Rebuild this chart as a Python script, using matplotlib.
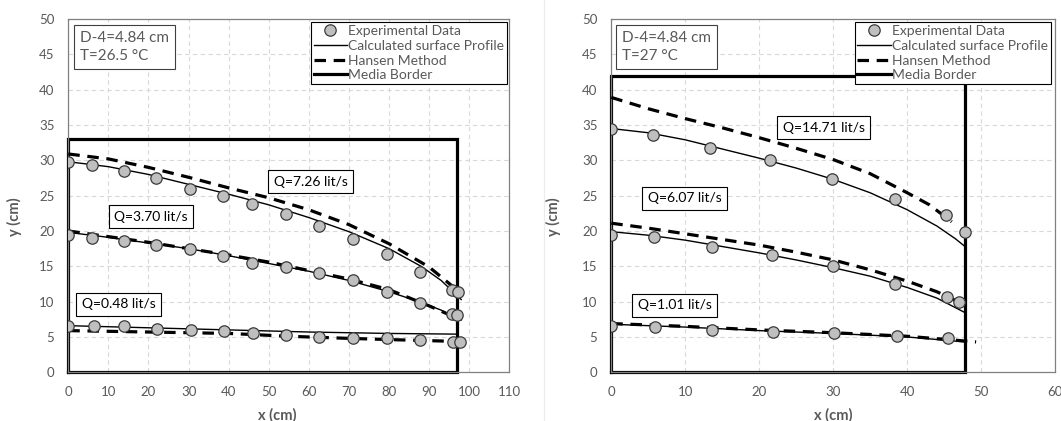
#!/usr/bin/env python3
"""
Free-surface profiles through porous media (D-4 = 4.84 cm).

Left:  media length ~97 cm, T = 26.5 C
Right: media length ~48 cm, T = 27 C

Output: out.png
"""

import matplotlib

matplotlib.use("Agg")
import matplotlib.pyplot as plt
from matplotlib.lines import Line2D

# ================================
# Data  (x, y in cm)
# ================================

# ---- left panel: T = 26.5 C ----
L_Q726_X = [0, 5.8, 13.8, 21.9, 30.4, 38.7, 45.8, 54.2, 62.5, 70.9, 79.4, 87.7, 95.8, 97.1]
L_Q726_Y = [29.7, 29.3, 28.5, 27.5, 26.0, 24.9, 23.8, 22.4, 20.7, 18.8, 16.8, 14.2, 11.6, 11.3]
L_Q370_X = [0, 5.8, 13.8, 21.9, 30.4, 38.7, 45.8, 54.2, 62.5, 70.9, 79.4, 87.7, 95.8, 96.9]
L_Q370_Y = [19.5, 19.0, 18.6, 18.0, 17.4, 16.4, 15.5, 14.9, 14.0, 13.0, 11.3, 9.8, 8.2, 8.1]
L_Q048_X = [0, 6.3, 14.0, 22.2, 30.5, 38.8, 46.1, 54.4, 62.6, 71.0, 79.5, 87.8, 96.0, 97.8]
L_Q048_Y = [6.6, 6.6, 6.5, 6.1, 6.0, 5.8, 5.5, 5.3, 5.0, 4.8, 4.8, 4.6, 4.3, 4.3]

L_CALC_X = [0, 10, 20, 30, 40, 50, 60, 70, 80, 88, 93, 98]
L_CALC_726 = [29.8, 29.1, 28.0, 26.6, 25.2, 23.7, 21.9, 19.9, 17.5, 15.0, 13.0, 10.3]
L_CALC_370 = [19.8, 19.1, 18.3, 17.5, 16.5, 15.4, 14.3, 13.0, 11.4, 9.9, 8.8, 7.4]
L_CALC_048_X = [0, 20, 40, 60, 80, 97]
L_CALC_048 = [6.6, 6.3, 6.0, 5.7, 5.5, 5.4]

L_HANSEN_X = [0, 10, 20, 30, 40, 50, 60, 70, 80, 90, 96]
L_HANSEN_726 = [30.9, 30.2, 29.0, 27.6, 26.1, 24.7, 23.0, 20.9, 18.2, 14.9, 12.1]
L_HANSEN_370 = [20.0, 19.2, 18.4, 17.5, 16.6, 15.6, 14.4, 13.2, 11.7, 9.4, 7.9]
L_HANSEN_048_X = [0, 20, 40, 55, 70, 82, 95]
L_HANSEN_048 = [5.9, 5.7, 5.5, 5.1, 4.8, 4.6, 4.4]

L_BORDER_W = 97.0
L_BORDER_H = 33.0

# ---- right panel: T = 27 C ----
R_Q1471_X = [0, 5.7, 13.4, 21.5, 29.8, 38.3, 45.2, 47.8]
R_Q1471_Y = [34.4, 33.6, 31.7, 30.0, 27.4, 24.5, 22.2, 19.9]
R_Q607_X = [0, 5.8, 13.6, 21.7, 30.0, 38.4, 45.3, 47.0]
R_Q607_Y = [19.4, 19.1, 17.8, 16.6, 15.0, 12.5, 10.6, 9.9]
R_Q101_X = [0, 5.9, 13.6, 21.9, 30.1, 38.6, 45.5]
R_Q101_Y = [6.5, 6.4, 6.0, 5.7, 5.5, 5.2, 4.8]

R_CALC_1471_X = [0, 5, 10, 15, 20, 25, 30, 35, 40, 44, 46.5, 47.8]
R_CALC_1471 = [34.5, 33.9, 32.9, 31.6, 30.3, 28.9, 27.3, 25.4, 23.0, 20.7, 18.9, 17.8]
R_CALC_607_X = [0, 5, 10, 15, 20, 25, 30, 35, 40, 44, 47.7]
R_CALC_607 = [19.9, 19.4, 18.7, 17.8, 16.9, 15.9, 14.8, 13.6, 12.0, 10.5, 8.5]
R_CALC_101_X = [0, 10, 20, 30, 40, 47.8]
R_CALC_101 = [6.8, 6.4, 5.9, 5.5, 5.0, 4.3]

R_HANSEN_1471_X = [0, 5, 10, 15, 20, 25, 30, 35, 40, 43, 46]
R_HANSEN_1471 = [38.9, 37.3, 35.9, 34.6, 33.2, 31.7, 30.1, 28.1, 25.4, 23.7, 21.3]
R_HANSEN_607_X = [0, 5, 10, 15, 20, 25, 30, 35, 40, 44, 47.3]
R_HANSEN_607 = [21.1, 20.4, 19.6, 18.8, 18.0, 17.0, 15.9, 14.5, 12.9, 11.4, 9.8]
R_HANSEN_101_X = [0, 10, 20, 30, 40, 49.3]
R_HANSEN_101 = [6.9, 6.5, 6.0, 5.6, 5.1, 4.3]

R_BORDER_W = 47.8
R_BORDER_H = 42.0

# ================================
# Style
# ================================

plt.rcParams["font.family"] = ["Lato", "DejaVu Sans"]

GRAY_TXT = "#595959"
MARKER_FC = "#bfbfbf"
MARKER_EC = "#3a3a3a"
HANSEN_LS = (0, (3.6, 2.4))

EXP_KW = dict(ls="none", marker="o", ms=8.2, mfc=MARKER_FC, mec=MARKER_EC, mew=0.9, zorder=5)
CALC_KW = dict(color="black", lw=1.0, zorder=3)
HANSEN_KW = dict(color="black", lw=2.3, ls=HANSEN_LS, zorder=4)
BOX = dict(boxstyle="square,pad=0.4", fc="white", ec="black", lw=0.8)
Q_FS = 10


def style_axes(ax, xmax, xstep):
    ax.set_xlim(0, xmax)
    ax.set_ylim(0, 50)
    ax.set_xticks(range(0, xmax + 1, xstep))
    ax.set_yticks(range(0, 51, 5))
    ax.grid(True, color="#d9d9d9", lw=0.8, ls=(0, (4, 3)))
    ax.set_axisbelow(True)
    ax.tick_params(length=0, labelsize=9.5, labelcolor=GRAY_TXT, pad=10)
    for s in ax.spines.values():
        s.set_color("#808080")
        s.set_linewidth(0.9)
    ax.set_xlabel("x (cm)", fontsize=10.5, fontweight="bold", color=GRAY_TXT)
    ax.set_ylabel("y (cm)", fontsize=10.5, fontweight="bold", color=GRAY_TXT)


def draw_border(ax, w, h):
    ax.plot([0, 0, w, w, 0], [0, h, h, 0, 0], color="black", lw=2.3,
            solid_joinstyle="miter", clip_on=False, zorder=2)


def add_legend(ax, right):
    handles = [
        Line2D([], [], **EXP_KW),
        Line2D([], [], color="black", lw=1.0),
        Line2D([], [], color="black", lw=2.3, ls=HANSEN_LS),
        Line2D([], [], color="black", lw=2.3),
    ]
    labels = ["Experimental Data", "Calculated surface Profile",
              "Hansen Method", "Media Border"]
    leg = ax.legend(handles, labels, loc="upper right", bbox_to_anchor=(right, 0.991),
                    fontsize=10, frameon=True, fancybox=False, framealpha=1,
                    edgecolor="black", borderpad=0.2, labelspacing=0.2,
                    handlelength=2.4, handletextpad=0.1, borderaxespad=0.0)
    leg.get_frame().set_linewidth(0.8)
    for t in leg.get_texts():
        t.set_color(GRAY_TXT)
    leg.set_zorder(6)


def info_box(ax, x, text):
    ax.text(x, 46.05, text, ha="left", va="center", fontsize=11,
            color=GRAY_TXT, linespacing=1.3, zorder=6,
            bbox=dict(boxstyle="square,pad=0.4", fc="white", ec="#404040", lw=0.8))


def main():
    fig = plt.figure(figsize=(10.61, 4.21), dpi=100)
    fig.patch.set_facecolor("white")

    bottom = (421 - 372.3) / 421
    height = 353.3 / 421
    ax1 = fig.add_axes([68.3 / 1061, bottom, 441 / 1061, height])
    ax2 = fig.add_axes([611.3 / 1061, bottom, 444 / 1061, height])

    # faint chart-area edge between the two charts
    fig.add_artist(Line2D([544 / 1061, 544 / 1061], [0, 1], color="#ececec", lw=0.8))

    # -------- left --------
    style_axes(ax1, 110, 10)
    draw_border(ax1, L_BORDER_W, L_BORDER_H)
    ax1.plot(L_CALC_X, L_CALC_726, **CALC_KW)
    ax1.plot(L_CALC_X, L_CALC_370, **CALC_KW)
    ax1.plot(L_CALC_048_X, L_CALC_048, **CALC_KW)
    ax1.plot(L_HANSEN_X, L_HANSEN_726, **HANSEN_KW)
    ax1.plot(L_HANSEN_X, L_HANSEN_370, **HANSEN_KW)
    ax1.plot(L_HANSEN_048_X, L_HANSEN_048, **HANSEN_KW)
    ax1.plot(L_Q726_X, L_Q726_Y, **EXP_KW)
    ax1.plot(L_Q370_X, L_Q370_Y, **EXP_KW)
    ax1.plot(L_Q048_X, L_Q048_Y, **EXP_KW)

    ax1.text(60.4, 27.0, "Q=7.26 lit/s", ha="center", va="center", fontsize=Q_FS, bbox=BOX, zorder=6)
    ax1.text(20.6, 22.0, "Q=3.70 lit/s", ha="center", va="center", fontsize=Q_FS, bbox=BOX, zorder=6)
    ax1.text(12.5, 9.65, "Q=0.48 lit/s", ha="center", va="center", fontsize=Q_FS, bbox=BOX, zorder=6)
    info_box(ax1, 2.9, "D-4=4.84 cm\nT=26.5 °C")
    add_legend(ax1, 0.995)
    ax1.xaxis.set_label_coords(0.474, -0.102)
    ax1.yaxis.set_label_coords(-0.104, 0.44)

    # -------- right --------
    style_axes(ax2, 60, 10)
    draw_border(ax2, R_BORDER_W, R_BORDER_H)
    ax2.plot(R_CALC_1471_X, R_CALC_1471, **CALC_KW)
    ax2.plot(R_CALC_607_X, R_CALC_607, **CALC_KW)
    ax2.plot(R_CALC_101_X, R_CALC_101, **CALC_KW)
    ax2.plot(R_HANSEN_1471_X, R_HANSEN_1471, **HANSEN_KW)
    ax2.plot(R_HANSEN_607_X, R_HANSEN_607, **HANSEN_KW)
    ax2.plot(R_HANSEN_101_X, R_HANSEN_101, **HANSEN_KW)
    ax2.plot(R_Q1471_X, R_Q1471_Y, **EXP_KW)
    ax2.plot(R_Q607_X, R_Q607_Y, **EXP_KW)
    ax2.plot(R_Q101_X, R_Q101_Y, **EXP_KW)

    ax2.text(28.7, 34.6, "Q=14.71 lit/s", ha="center", va="center", fontsize=Q_FS, bbox=BOX, zorder=6)
    ax2.text(9.9, 24.6, "Q=6.07 lit/s", ha="center", va="center", fontsize=Q_FS, bbox=BOX, zorder=6)
    ax2.text(8.6, 9.5, "Q=1.01 lit/s", ha="center", va="center", fontsize=Q_FS, bbox=BOX, zorder=6)
    info_box(ax2, 1.4, "D-4=4.84 cm\nT=27 °C")
    add_legend(ax2, 0.99)
    ax2.xaxis.set_label_coords(0.5, -0.102)
    ax2.yaxis.set_label_coords(-0.113, 0.44)

    fig.savefig("out.png", dpi=100, facecolor="white")


if __name__ == "__main__":
    main()
